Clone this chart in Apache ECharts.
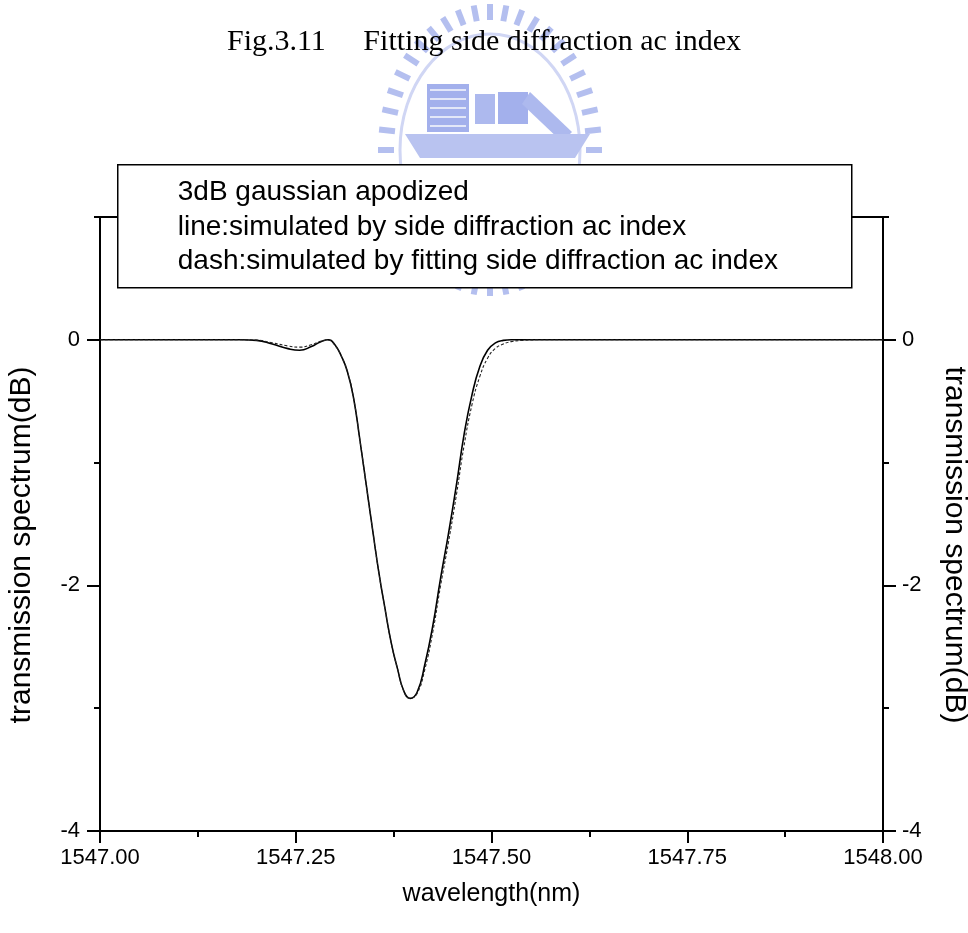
<!DOCTYPE html>
<html>
<head>
<meta charset="utf-8">
<script src="https://cdn.jsdelivr.net/npm/echarts@6/dist/echarts.min.js"></script>
<style>
  html, body { margin: 0; padding: 0; background: #fff; overflow: hidden; }
  #chart { width: 968px; height: 933px; }
</style>
</head>
<body>
<div id="chart"></div>
<script>
// wavelength grid (nm) and the two simulated transmission curves (dB)
const wavelength = [
    1547.00, 1547.10, 1547.18, 1547.20, 1547.22, 1547.24, 1547.255, 1547.27, 1547.282, 1547.292,
    1547.300, 1547.308, 1547.316, 1547.324, 1547.332, 1547.340, 1547.348, 1547.356, 1547.364, 1547.372,
    1547.380, 1547.388, 1547.396, 1547.405, 1547.415, 1547.425, 1547.435, 1547.445, 1547.455, 1547.465,
    1547.475, 1547.485, 1547.495, 1547.505, 1547.515, 1547.525, 1547.54, 1547.56, 1547.60, 1548.00
];
// line: simulated by side diffraction ac index
const lineValues = [
    0, 0, 0, -0.005, -0.035, -0.072, -0.085, -0.055, -0.015, 0,
    -0.04, -0.13, -0.26, -0.48, -0.82, -1.18, -1.54, -1.89, -2.19, -2.47,
    -2.68, -2.86, -2.92, -2.87, -2.64, -2.33, -1.94, -1.58, -1.19, -0.77,
    -0.45, -0.22, -0.085, -0.025, -0.005, 0, 0, 0, 0, 0
];
// dash: simulated by fitting side diffraction ac index
const dashValues = [
    0, 0, 0, -0.003, -0.025, -0.05, -0.06, -0.04, -0.012, -0.004,
    -0.045, -0.13, -0.26, -0.48, -0.82, -1.18, -1.54, -1.89, -2.19, -2.47,
    -2.68, -2.86, -2.92, -2.88, -2.68, -2.38, -2.00, -1.65, -1.27, -0.86,
    -0.53, -0.30, -0.15, -0.07, -0.035, -0.015, -0.005, 0, 0, 0
];
const yMajor = [-4, -2, 0];
const yMinor = [-3, -1, 1];
const legendLines = [
    '3dB gaussian apodized',
    'line:simulated by side diffraction ac index',
    'dash:simulated by fitting side diffraction ac index'
];

const myChart = echarts.init(document.getElementById('chart'));

const FONT = 'Liberation Sans, Arial, sans-serif';
const axisLine = { show: true, onZero: false, lineStyle: { color: '#000', width: 2 } };

function yAxisPair(position) {
    const right = position === 'right';
    return [
        {
            type: 'value', position: position, min: -4, max: 1, interval: 1,
            axisLine: axisLine,
            axisTick: { show: true, length: 13, lineStyle: { color: '#000', width: 2 }, customValues: yMajor },
            axisLabel: { show: true, customValues: yMajor, color: '#000', fontSize: 22, fontFamily: FONT, margin: right ? 19 : 20 },
            splitLine: { show: false },
            name: 'transmission spectrum(dB)',
            nameLocation: 'middle',
            nameGap: right ? 56 : 63,
            nameRotate: right ? -90 : 90,
            nameTextStyle: { color: '#000', fontSize: 30, fontFamily: FONT, padding: right ? [0, 0, 0, 42] : [0, 42, 0, 0] }
        },
        {
            type: 'value', position: position, min: -4, max: 1, interval: 1,
            axisLine: { show: false, onZero: false },
            axisTick: { show: true, length: 6, lineStyle: { color: '#000', width: 2 }, customValues: yMinor },
            axisLabel: { show: false },
            splitLine: { show: false }
        }
    ];
}

// faint logo watermark behind the title
const wm = [];
const cx = 490, cy = 150;
for (let i = 0; i < 44; i++) {
    const a = i / 44 * Math.PI * 2;
    wm.push({
        type: 'rect',
        x: cx + Math.cos(a) * 104, y: cy + Math.sin(a) * 138,
        rotation: -Math.atan2(Math.sin(a) * 104, Math.cos(a) * 138),
        shape: { x: -8, y: -3, width: 16, height: 6 },
        style: { fill: '#b4bfef' },
        silent: true, z: 0
    });
}
wm.push(
    { type: 'ellipse', shape: { cx: cx, cy: cy, rx: 90, ry: 116 }, style: { fill: 'none', stroke: '#d0d6f4', lineWidth: 3 }, z: 0, silent: true },
    { type: 'rect', shape: { x: 427, y: 84, width: 42, height: 48 }, style: { fill: '#a3b0ec' }, z: 0, silent: true },
    { type: 'rect', shape: { x: 475, y: 94, width: 20, height: 30 }, style: { fill: '#adb9ee' }, z: 0, silent: true },
    { type: 'rect', shape: { x: 498, y: 92, width: 30, height: 32 }, style: { fill: '#a3b0ec' }, z: 0, silent: true },
    { type: 'polygon', shape: { points: [[530, 92], [572, 132], [562, 142], [522, 104]] }, style: { fill: '#adb9ee' }, z: 0, silent: true },
    { type: 'polygon', shape: { points: [[405, 134], [590, 134], [575, 158], [420, 158]] }, style: { fill: '#b9c3f0' }, z: 0, silent: true }
);
for (let k = 0; k < 5; k++) {
    wm.push({ type: 'rect', shape: { x: 430, y: 89 + k * 9, width: 36, height: 2 }, style: { fill: '#e3e7f8' }, z: 0, silent: true });
}

// legend box, drawn over the top axis line
const legendBox = {
    type: 'group', left: 117, top: 164, z: 100,
    children: [
        { type: 'rect', z: 100, shape: { x: 0, y: 0, width: 734, height: 123 }, style: { fill: '#fff', stroke: '#000', lineWidth: 1.5 } }
    ].concat(legendLines.map((t, i) => ({
        type: 'text', z: 101, x: 60, y: 28 + i * 34.5,
        style: { text: t, fill: '#000', font: '28px ' + FONT, textVerticalAlign: 'middle' }
    })))
};

const option = {
    backgroundColor: '#fff',
    animation: false,
    title: {
        text: 'Fig.3.11     Fitting side diffraction ac index',
        left: 'center', top: 22,
        textStyle: { fontFamily: 'Liberation Serif, Times New Roman, serif', fontSize: 30, fontWeight: 'normal', color: '#000' }
    },
    grid: { left: 100, right: 85, top: 217, bottom: 102, containLabel: false, outerBoundsMode: 'none' },
    xAxis: [
        {
            type: 'value', position: 'bottom', min: 1547, max: 1548, interval: 0.25,
            axisLine: axisLine,
            axisTick: { show: true, length: 12, lineStyle: { color: '#000', width: 2 } },
            minorTick: { show: true, splitNumber: 2, length: 6, lineStyle: { color: '#000', width: 2 } },
            axisLabel: { color: '#000', fontSize: 22, fontFamily: FONT, margin: 16, formatter: v => v.toFixed(2) },
            splitLine: { show: false },
            name: 'wavelength(nm)',
            nameLocation: 'middle',
            nameGap: 51,
            nameTextStyle: { color: '#000', fontSize: 25, fontFamily: FONT }
        },
        {
            type: 'value', position: 'top', min: 1547, max: 1548,
            axisLine: axisLine,
            axisTick: { show: false },
            axisLabel: { show: false },
            splitLine: { show: false }
        }
    ],
    yAxis: yAxisPair('left').concat(yAxisPair('right')),
    graphic: wm.concat([legendBox]),
    series: [
        {
            type: 'line', name: 'line', xAxisIndex: 0, yAxisIndex: 0,
            showSymbol: false, smooth: 0.5, z: 3,
            data: wavelength.map((w, i) => [w, lineValues[i]]),
            lineStyle: { color: '#000', width: 1.6 }
        },
        {
            type: 'line', name: 'dash', xAxisIndex: 0, yAxisIndex: 0,
            showSymbol: false, smooth: 0.5, z: 4,
            data: wavelength.map((w, i) => [w, dashValues[i]]),
            lineStyle: { color: '#222', width: 1.1, type: [3, 2] }
        }
    ]
};

myChart.setOption(option, true);
</script>
</body>
</html>
